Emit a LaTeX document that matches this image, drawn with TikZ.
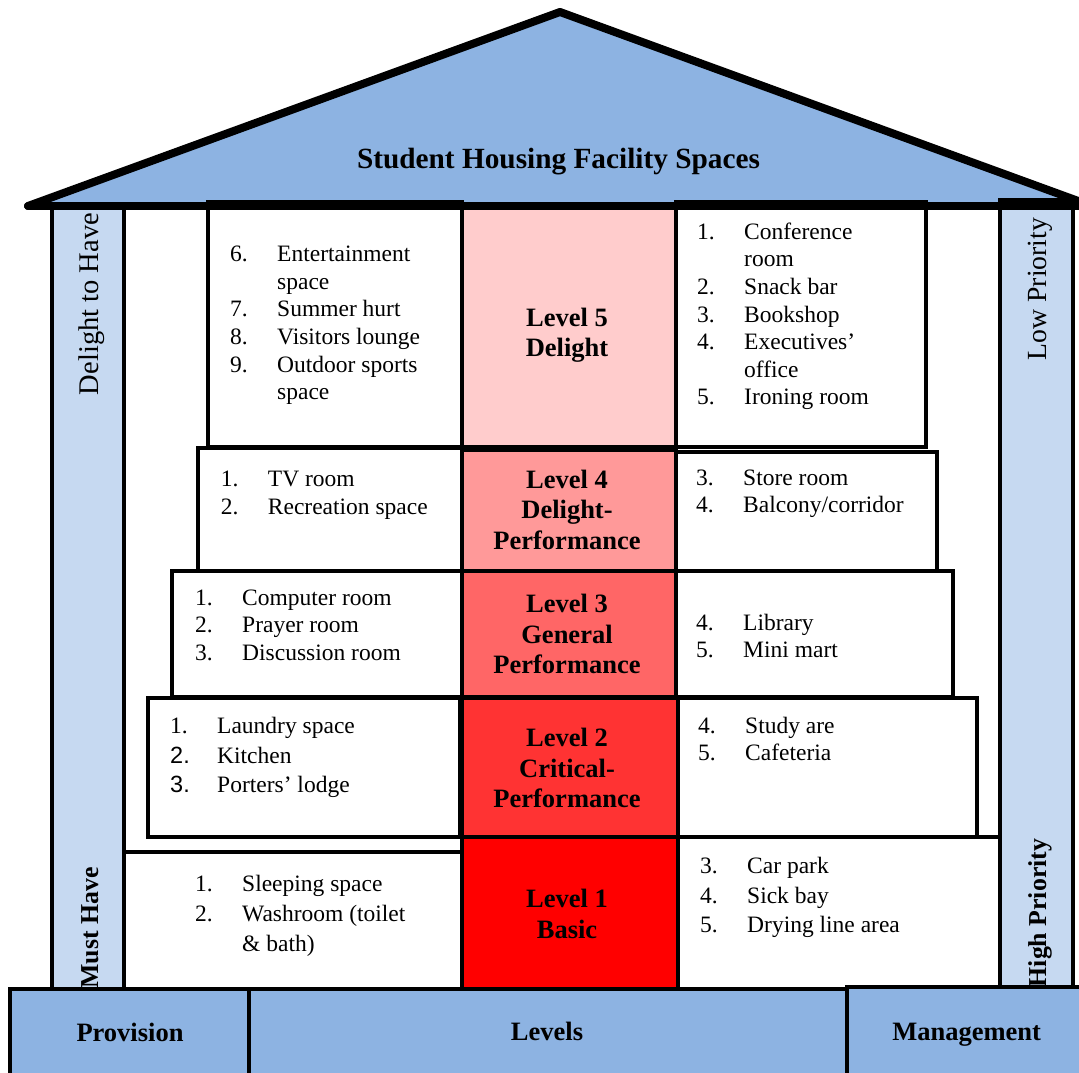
\documentclass[tikz,border=0pt]{standalone}
\usepackage{fontspec}
\setmainfont{Liberation Serif}
\newfontfamily\sansnum{Liberation Sans}
\newcommand{\itm}[2]{\makebox[47pt][l]{#1}#2}
\begin{document}
\begin{tikzpicture}[x=1pt,y=-1pt]
\definecolor{roofblue}{HTML}{8DB3E2}
\definecolor{pillarblue}{HTML}{C6D9F1}
\definecolor{lvfive}{HTML}{FFCCCC}
\definecolor{lvfour}{HTML}{FF9999}
\definecolor{lvthree}{HTML}{FF6666}
\definecolor{lvtwo}{HTML}{FF3333}
\definecolor{lvone}{HTML}{FF0000}
\tikzset{
 roofline/.style={line width=8pt, line cap=round, line join=round},
 pillar/.style={draw=black, line width=4.5pt, fill=pillarblue},
 sidebox/.style={draw=black, line width=4.5pt, fill=white},
 levelbox/.style={draw=black, line width=4.5pt},
 basebox/.style={draw=black, line width=4pt, fill=roofblue},
 listtext/.style={inner sep=0pt, font=\fontsize{23.5}{27.6}\selectfont},
 widelist/.style={inner sep=0pt, font=\fontsize{23.5}{29.8}\selectfont},
 leveltext/.style={inner sep=0pt, font=\fontsize{26.5}{30.5}\selectfont\bfseries},
 basetext/.style={inner sep=0pt, font=\fontsize{26.5}{30}\selectfont\bfseries},
 titletext/.style={inner sep=0pt, font=\fontsize{29.3}{34}\selectfont\bfseries},
 sidetext/.style={inner sep=0pt, rotate=90, font=\fontsize{27.7}{30}\selectfont},
 sidebold/.style={inner sep=0pt, rotate=90, font=\fontsize{25.8}{30}\selectfont\bfseries},
}
\useasboundingbox (0,0) rectangle (1079,1073);
\begin{scope}
\clip (0,0) rectangle (1079,1073);
% roof
\fill[roofblue] (28,206) -- (560,12) -- (1092,206) -- cycle;
% pillars
\draw[pillar] (52,206) rectangle (124,990);
\draw[pillar] (1000,200) rectangle (1073,990);
% level 5
\draw[sidebox] (208,202) rectangle (462,447);
\draw[sidebox] (676,202) rectangle (926,447);
\draw[levelbox, fill=lvfive] (462,205) rectangle (676,447);
% level 4
\draw[sidebox] (198,448) rectangle (462,571);
\draw[sidebox] (676,452) rectangle (937,571);
\draw[levelbox, fill=lvfour] (462,450) rectangle (676,571);
% level 3
\draw[sidebox] (172,571) rectangle (462,697);
\draw[sidebox] (676,571) rectangle (953,697);
\draw[levelbox, fill=lvthree] (462,571) rectangle (676,697);
% level 2
\draw[sidebox] (148,698) rectangle (460,837);
\draw[sidebox] (678,698) rectangle (977,837);
\draw[levelbox, fill=lvtwo] (462,698) rectangle (678,837);
% level 1
\draw[sidebox] (124,852) rectangle (462,990);
\draw[sidebox] (678,837) rectangle (1000,990);
\draw[levelbox, fill=lvone] (462,837) rectangle (678,990);
% roof outline
\draw[roofline] (28,206) -- (560,12) -- (1092,206);
\draw[roofline] (28,206) -- (1085,206);
% side labels
\node[sidetext, anchor=base, font=\fontsize{28.5}{30}\selectfont] (delight) at (98.3,304) {Delight to Have};
\node[sidetext, anchor=base] (lowp) at (1046.7,289) {Low Priority};
\node[sidebold, anchor=base] (must) at (98.3,928) {Must Have};
\node[sidebold, anchor=base] (highp) at (1046.7,913) {High Priority};
% base
\draw[basebox] (10,989) rectangle (249,1085);
\draw[basebox] (249,989) rectangle (847,1085);
\draw[basebox] (847,987) rectangle (1090,1085);
\end{scope}
% title
\node[titletext, anchor=base] (title) at (558.5,168.3) {Student Housing Facility Spaces};
% level texts
\node[leveltext, anchor=base] (lv5) at (567,326) {\begin{tabular}[t]{@{}c@{}}Level 5\\Delight\end{tabular}};
\node[leveltext, anchor=base] (lv4) at (567,488.3) {\begin{tabular}[t]{@{}c@{}}Level 4\\Delight-\\Performance\end{tabular}};
\node[leveltext, anchor=base] (lv3) at (567,612.7) {\begin{tabular}[t]{@{}c@{}}Level 3\\General\\Performance\end{tabular}};
\node[leveltext, anchor=base] (lv2) at (567,746.7) {\begin{tabular}[t]{@{}c@{}}Level 2\\Critical-\\Performance\end{tabular}};
\node[leveltext, anchor=base] (lv1) at (567,907.7) {\begin{tabular}[t]{@{}c@{}}Level 1\\Basic\end{tabular}};
% lists
\node[listtext, anchor=base west] (l5l) at (230,261.7) {\begin{tabular}[t]{@{}l@{}}\itm{6.}{Entertainment}\\\itm{}{space}\\\itm{7.}{Summer hurt}\\\itm{8.}{Visitors lounge}\\\itm{9.}{Outdoor sports}\\\itm{}{space}\end{tabular}};
\node[listtext, anchor=base west] (l5r) at (697,239.3) {\begin{tabular}[t]{@{}l@{}}\itm{1.}{Conference}\\\itm{}{room}\\\itm{2.}{Snack bar}\\\itm{3.}{Bookshop}\\\itm{4.}{Executives’}\\\itm{}{office}\\\itm{5.}{Ironing room}\end{tabular}};
\node[listtext, anchor=base west] (l4l) at (220.7,486.7) {\begin{tabular}[t]{@{}l@{}}\itm{1.}{TV room}\\\itm{2.}{Recreation space}\end{tabular}};
\node[listtext, anchor=base west] (l4r) at (696,485) {\begin{tabular}[t]{@{}l@{}}\itm{3.}{Store room}\\\itm{4.}{Balcony/corridor}\end{tabular}};
\node[listtext, anchor=base west] (l3l) at (195,605) {\begin{tabular}[t]{@{}l@{}}\itm{1.}{Computer room}\\\itm{2.}{Prayer room}\\\itm{3.}{Discussion room}\end{tabular}};
\node[listtext, anchor=base west] (l3r) at (696,630) {\begin{tabular}[t]{@{}l@{}}\itm{4.}{Library}\\\itm{5.}{Mini mart}\end{tabular}};
\node[widelist, anchor=base west] (l2l) at (170,733.3) {\begin{tabular}[t]{@{}l@{}}\itm{1.}{Laundry space}\\\itm{\sansnum 2.}{Kitchen}\\\itm{\sansnum 3.}{Porters’ lodge}\end{tabular}};
\node[listtext, anchor=base west] (l2r) at (698,733) {\begin{tabular}[t]{@{}l@{}}\itm{4.}{Study are}\\\itm{5.}{Cafeteria}\end{tabular}};
\node[widelist, anchor=base west] (l1l) at (195,891.7) {\begin{tabular}[t]{@{}l@{}}\itm{1.}{Sleeping space}\\\itm{2.}{Washroom (toilet}\\\itm{}{\& bath)}\end{tabular}};
\node[widelist, anchor=base west] (l1r) at (700,873.3) {\begin{tabular}[t]{@{}l@{}}\itm{3.}{Car park}\\\itm{4.}{Sick bay}\\\itm{5.}{Drying line area}\end{tabular}};
% base labels
\node[basetext, anchor=base] (prov) at (130,1041.7) {Provision};
\node[basetext, anchor=base] (levels) at (547,1040) {Levels};
\node[basetext, anchor=base] (mgmt) at (966.7,1040) {Management};
\end{tikzpicture}
\end{document}
